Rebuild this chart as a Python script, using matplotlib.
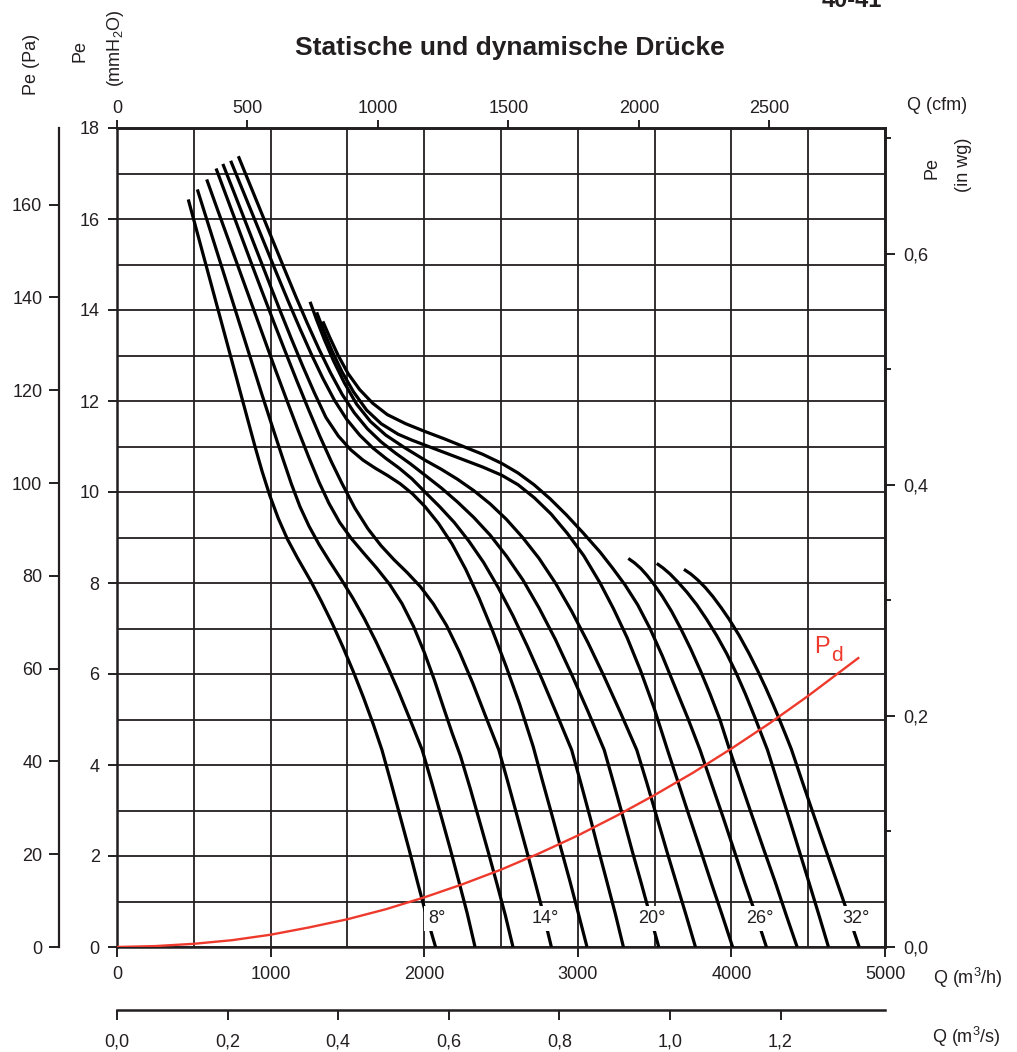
import numpy as np
import matplotlib
matplotlib.use("Agg")
import matplotlib.pyplot as plt
from matplotlib.ticker import FuncFormatter

plt.rcParams['font.family'] = ['Liberation Sans', 'DejaVu Sans']

INK = '#231f20'
RED = '#ee3a2c'

# fan curves: Q in m3/h, Pe in mmH2O
q08 = [464, 520, 580, 640, 700, 760, 820, 860, 900, 945, 995, 1050, 1110, 1175, 1260, 1330, 1400, 1470,
       1540, 1605, 1668, 1725, 1785, 1845, 1905, 1960, 2015, 2074]
p08 = [16.43, 15.73, 14.98, 14.23, 13.48, 12.73, 11.98, 11.48, 10.98, 10.45, 9.92, 9.42, 8.96, 8.55, 8.05,
       7.6, 7.12, 6.6, 6.04, 5.48, 4.9, 4.33, 3.6, 2.85, 2.1, 1.38, 0.68, 0]
q10 = [523, 590, 660, 730, 800, 870, 940, 1010, 1075, 1135, 1191, 1250, 1315, 1385, 1460, 1535, 1610, 1685,
       1760, 1835, 1910, 1987, 2050, 2110, 2170, 2225, 2280, 2331]
p10 = [16.65, 15.93, 15.18, 14.43, 13.68, 12.93, 12.18, 11.45, 10.78, 10.18, 9.68, 9.25, 8.85, 8.47, 8.08,
       7.67, 7.22, 6.72, 6.18, 5.6, 4.98, 4.33, 3.6, 2.88, 2.15, 1.45, 0.74, 0]
q12 = [584, 655, 730, 805, 880, 955, 1030, 1105, 1180, 1250, 1315, 1380, 1450, 1525, 1605, 1690, 1775, 1855,
       1930, 2000, 2065, 2125, 2182, 2236, 2300, 2360, 2420, 2475, 2528, 2578]
p12 = [16.87, 16.2, 15.5, 14.8, 14.1, 13.4, 12.7, 12.02, 11.35, 10.75, 10.22, 9.75, 9.33, 8.98, 8.66, 8.33,
       7.97, 7.55, 7.05, 6.48, 5.88, 5.27, 4.7, 4.2, 3.48, 2.77, 2.05, 1.37, 0.7, 0]
q14 = [645, 720, 795, 870, 945, 1020, 1095, 1170, 1245, 1320, 1395, 1463, 1548, 1634, 1719, 1804, 1889, 1975,
       2060, 2145, 2230, 2316, 2401, 2486, 2545, 2605, 2665, 2720, 2775, 2828]
p14 = [17.11, 16.43, 15.75, 15.07, 14.4, 13.74, 13.09, 12.45, 11.83, 11.23, 10.67, 10.2, 9.65, 9.19, 8.82,
       8.51, 8.23, 7.92, 7.54, 7.07, 6.48, 5.8, 5.06, 4.33, 3.62, 2.88, 2.14, 1.45, 0.74, 0]
q16 = [689, 760, 835, 910, 985, 1060, 1135, 1210, 1285, 1360, 1441, 1521, 1602, 1683, 1763, 1844, 1924, 2005,
       2093, 2181, 2269, 2357, 2445, 2533, 2621, 2710, 2770, 2830, 2890, 2950, 3005, 3060]
p16 = [17.21, 16.6, 15.95, 15.3, 14.65, 14.0, 13.37, 12.76, 12.18, 11.64, 11.23, 10.93, 10.7, 10.52, 10.36,
       10.18, 9.96, 9.68, 9.31, 8.86, 8.31, 7.67, 6.95, 6.17, 5.34, 4.4, 3.65, 2.92, 2.17, 1.43, 0.72, 0]
q18 = [740, 815, 890, 965, 1040, 1115, 1190, 1265, 1340, 1415, 1495, 1580, 1665, 1750, 1835, 1920, 2005,
       2100, 2196, 2291, 2387, 2482, 2578, 2673, 2769, 2864, 2960, 3020, 3080, 3135, 3190, 3245, 3297]
p18 = [17.28, 16.66, 16.04, 15.42, 14.8, 14.19, 13.6, 13.03, 12.5, 12.02, 11.6, 11.25, 10.97, 10.74, 10.53,
       10.29, 10.0, 9.68, 9.33, 8.92, 8.45, 7.9, 7.28, 6.6, 5.87, 5.11, 4.33, 3.6, 2.85, 2.13, 1.43, 0.72, 0]
q20 = [790, 865, 940, 1015, 1090, 1165, 1240, 1315, 1390, 1465, 1545, 1630, 1720, 1815, 1910, 2005, 2111,
       2217, 2323, 2430, 2536, 2642, 2748, 2854, 2960, 3066, 3172, 3235, 3295, 3355, 3415, 3470, 3527]
p20 = [17.38, 16.76, 16.14, 15.52, 14.9, 14.29, 13.7, 13.14, 12.62, 12.15, 11.74, 11.39, 11.1, 10.85, 10.62,
       10.37, 10.09, 9.78, 9.44, 9.05, 8.59, 8.07, 7.45, 6.76, 5.99, 5.18, 4.33, 3.58, 2.85, 2.1, 1.38, 0.7, 0]
q22 = [1257, 1300, 1350, 1410, 1480, 1560, 1650, 1750, 1870, 2005, 2111, 2217, 2323, 2429, 2535, 2641, 2748,
       2854, 2960, 3066, 3172, 3278, 3384, 3450, 3515, 3580, 3645, 3705, 3766]
p22 = [14.18, 13.78, 13.35, 12.88, 12.4, 11.93, 11.55, 11.25, 10.98, 10.7, 10.5, 10.28, 10.03, 9.74, 9.4,
       9.0, 8.54, 8.0, 7.38, 6.69, 5.94, 5.15, 4.33, 3.6, 2.85, 2.1, 1.37, 0.7, 0]
q24 = [1300, 1345, 1400, 1465, 1540, 1625, 1720, 1830, 1920, 2005, 2130, 2255, 2380, 2504, 2611, 2718, 2825,
       2932, 3039, 3145, 3233, 3321, 3409, 3497, 3584, 3655, 3725, 3800, 3870, 3940, 4008]
p24 = [13.95, 13.55, 13.1, 12.64, 12.2, 11.8, 11.5, 11.27, 11.14, 11.03, 10.87, 10.71, 10.55, 10.37, 10.16,
       9.87, 9.52, 9.09, 8.6, 8.0, 7.43, 6.8, 6.07, 5.25, 4.33, 3.6, 2.88, 2.12, 1.4, 0.7, 0]
q26 = [1340, 1385, 1440, 1505, 1580, 1665, 1760, 1880, 2005, 2130, 2255, 2380, 2504, 2610, 2715, 2820, 2925,
       3035, 3145, 3226, 3307, 3390, 3470, 3550, 3630, 3715, 3796, 3870, 3945, 4015, 4085, 4160, 4228]
p26 = [13.75, 13.4, 13.0, 12.6, 12.25, 11.95, 11.7, 11.5, 11.33, 11.17, 11.0, 10.83, 10.63, 10.42, 10.16,
       9.85, 9.5, 9.1, 8.68, 8.33, 7.96, 7.52, 7.0, 6.4, 5.74, 5.04, 4.33, 3.6, 2.86, 2.15, 1.43, 0.7, 0]
q28 = [3329, 3370, 3410, 3450, 3490, 3550, 3610, 3670, 3735, 3800, 3860, 3925, 3984, 4060, 4135, 4210, 4285,
       4355, 4428]
p28 = [8.54, 8.44, 8.32, 8.17, 8.0, 7.71, 7.38, 7.0, 6.55, 6.06, 5.57, 5.0, 4.38, 3.62, 2.88, 2.15, 1.43,
       0.72, 0]
q30 = [3514, 3555, 3600, 3652, 3710, 3775, 3839, 3905, 3969, 4030, 4090, 4150, 4235, 4305, 4375, 4440, 4505,
       4570, 4632]
p30 = [8.43, 8.33, 8.2, 8.02, 7.8, 7.52, 7.2, 6.84, 6.45, 6.03, 5.57, 5.07, 4.33, 3.58, 2.84, 2.13, 1.42,
       0.7, 0]
q32 = [3691, 3735, 3780, 3830, 3880, 3935, 3984, 4050, 4115, 4170, 4223, 4270, 4310, 4350, 4390, 4465, 4540,
       4615, 4690, 4762, 4832]
p32 = [8.30, 8.2, 8.07, 7.9, 7.7, 7.45, 7.21, 6.85, 6.45, 6.08, 5.7, 5.34, 5.02, 4.69, 4.35, 3.6, 2.86,
       2.13, 1.4, 0.7, 0]

# dynamic pressure Pd
qd = [0, 250, 500, 750, 1000, 1250, 1500, 1750, 2000, 2250, 2500, 2750, 3000, 3250, 3500, 3750, 4000, 4250, 4500, 4826]
pd_ = [0, 0.02, 0.07, 0.15, 0.27, 0.43, 0.61, 0.83, 1.09, 1.38, 1.70, 2.06, 2.45, 2.88, 3.34, 3.83, 4.36, 4.92, 5.52, 6.35]

label_txt = ['8°', '14°', '20°', '26°', '32°']
label_q = [2083, 2786, 3483, 4183, 4811]
label_p = 0.62

curves = [(q08, p08), (q10, p10), (q12, p12), (q14, p14), (q16, p16), (q18, p18), (q20, p20),
          (q22, p22), (q24, p24), (q26, p26), (q28, p28), (q30, p30), (q32, p32)]

W, H = 1017, 1052
fig = plt.figure(figsize=(W / 100, H / 100), dpi=100)
ax = fig.add_axes([117 / W, 105 / H, 768 / W, 819 / H])

def fx(px):
    return px / W

def fy(py):
    return 1 - py / H

ax.set_xlim(0, 5000)
ax.set_ylim(0, 18)
ax.set_xticks(np.arange(0, 5001, 1000))
ax.set_xticks(np.arange(500, 5000, 1000), minor=True)
ax.set_yticks(np.arange(0, 19, 2))
ax.set_yticks(np.arange(1, 18, 2), minor=True)
ax.grid(True, which='both', color=INK, lw=1.3, zorder=1)
ax.set_axisbelow(True)
ax.tick_params(which='minor', length=0)
ax.tick_params(axis='x', which='major', direction='out', length=7, width=1.4,
               colors=INK, labelsize=13, pad=7)
ax.tick_params(axis='y', which='major', direction='out', length=6.5, width=1.4,
               colors=INK, labelsize=13, pad=6)
for s in ax.spines.values():
    s.set_linewidth(1.8)
    s.set_color(INK)

for q, p in curves:
    ax.plot(q, p, color='black', lw=2.3, solid_capstyle='butt', solid_joinstyle='round', zorder=3)

for t, q in zip(label_txt, label_q):
    ax.text(q, label_p, t, fontsize=13, color=INK, ha='center', va='center', zorder=4,
            bbox=dict(facecolor='white', edgecolor='none', pad=3))

ax.plot(qd, pd_, color=RED, lw=1.7, zorder=5)
fig.text(fx(814), fy(653), 'P', color=RED, fontsize=17, va='baseline')
fig.text(fx(831), fy(661), 'd', color=RED, fontsize=15, va='baseline')

comma = FuncFormatter(lambda v, pos: f'{v:.1f}'.replace('.', ','))

# top: cfm
top = ax.secondary_xaxis('top', functions=(lambda q: q / 1.699, lambda c: c * 1.699))
top.set_xticks(np.arange(0, 2501, 500))
top.tick_params(direction='out', length=6, width=1.4, colors=INK, labelsize=13, pad=2)
top.spines['top'].set_linewidth(1.8)

# right: in wg
rgt = ax.secondary_yaxis('right', functions=(lambda p: p / 25.4, lambda w: w * 25.4))
rgt.set_yticks([0, 0.2, 0.4, 0.6])
rgt.set_yticks([0.1, 0.3, 0.5, 0.7], minor=True)
rgt.yaxis.set_major_formatter(comma)
rgt.tick_params(which='major', direction='out', length=7, width=1.4, colors=INK, labelsize=13, pad=6)
rgt.tick_params(which='minor', direction='out', length=4, width=1.4, colors=INK)
rgt.spines['right'].set_linewidth(1.8)

# far left: Pa
pa = ax.secondary_yaxis(-0.0755, functions=(lambda p: p * 9.80665, lambda v: v / 9.80665))
pa.set_yticks(np.arange(0, 161, 20))
pa.tick_params(direction='out', length=7, width=1.4, colors=INK, labelsize=13, pad=5)
pa.spines['left'].set_linewidth(1.6)
pa.spines['left'].set_color(INK)

# lower: m3/s
ms = ax.secondary_xaxis(-0.0769, functions=(lambda q: q / 3600, lambda v: v * 3600))
ms.set_xticks(np.arange(0, 1.21, 0.2))
ms.xaxis.set_major_formatter(comma)
ms.tick_params(direction='out', length=7, width=1.4, colors=INK, labelsize=13, pad=10)
ms.spines['bottom'].set_linewidth(1.8)
ms.spines['bottom'].set_color(INK)

# axis titles
fig.text(fx(32), fy(64), 'Pe (Pa)', rotation=90, fontsize=13, color=INK, ha='center', va='center')
fig.text(fx(80), fy(51), 'Pe', rotation=90, fontsize=13, color=INK, ha='center', va='center')
fig.text(fx(115), fy(48), r'(mmH$_\mathregular{2}$O)', rotation=90, fontsize=13, color=INK,
         ha='center', va='center')
fig.text(fx(907), fy(105), 'Q (cfm)', fontsize=13, color=INK, ha='left', va='center')
fig.text(fx(932), fy(168), 'Pe', rotation=90, fontsize=13, color=INK, ha='center', va='center')
fig.text(fx(963), fy(165), '(in wg)', rotation=90, fontsize=13, color=INK, ha='center', va='center')
fig.text(fx(933), fy(978), r'Q (m$^\mathregular{3}$/h)', fontsize=13, color=INK, ha='left', va='center')
fig.text(fx(932), fy(1037), r'Q (m$^\mathregular{3}$/s)', fontsize=13, color=INK, ha='left', va='center')

fig.text(fx(510), fy(55), 'Statische und dynamische Drücke', fontsize=19, fontweight='bold',
         color=INK, ha='center', va='baseline')
fig.text(fx(852), fy(7), '40-41', fontsize=17, fontweight='bold', color=INK,
         ha='center', va='baseline')

fig.savefig('out.png', dpi=100)
